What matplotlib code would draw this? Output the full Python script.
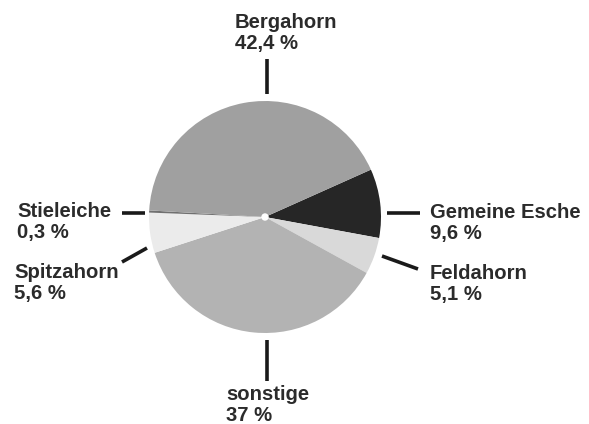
import matplotlib
matplotlib.use("Agg")
import matplotlib.pyplot as plt

# shares in percent, in drawing order (clockwise from Gemeine Esche)
species = ["Gemeine Esche", "Feldahorn", "sonstige", "Spitzahorn", "Stieleiche", "Bergahorn"]
shares = [9.6, 5.1, 37.0, 5.6, 0.3, 42.4]
share_labels = ["9,6 %", "5,1 %", "37 %", "5,6 %", "0,3 %", "42,4 %"]
colors = ["#262626", "#d9d9d9", "#b3b3b3", "#ebebeb", "#707070", "#a0a0a0"]

W, H = 589, 424
fig = plt.figure(figsize=(W / 100, H / 100), dpi=100)
ax = fig.add_axes([0, 0, 1, 1])

cx, cy, r = 265, H - 217, 116
ax.pie(shares, colors=colors, startangle=24.1, counterclock=False,
       center=(cx, cy), radius=r, frame=True,
       wedgeprops=dict(linewidth=0))
ax.set_xlim(0, W)
ax.set_ylim(0, H)
ax.set_aspect("equal")
ax.axis("off")
ax.add_patch(plt.Circle((cx, cy), 3, color="white", zorder=5))

# leader lines (pixel coords of the reference, y from top)
leaders = {
    "Gemeine Esche": ((387, 213), (420, 213)),
    "Feldahorn": ((382, 256), (418, 269)),
    "sonstige": ((267, 340), (267, 381)),
    "Spitzahorn": ((122, 262), (147, 248)),
    "Stieleiche": ((122, 213), (145, 213)),
    "Bergahorn": ((267, 59), (267, 94)),
}
# label anchor: left x, top y of first line
label_pos = {
    "Gemeine Esche": (430, 203),
    "Feldahorn": (430, 264),
    "sonstige": (226, 385),
    "Spitzahorn": (14, 263),
    "Stieleiche": (17, 202),
    "Bergahorn": (235, 13),
}

for name, lab in zip(species, share_labels):
    (x0, y0), (x1, y1) = leaders[name]
    ax.plot([x0, x1], [H - y0, H - y1], color="#1a1a1a", linewidth=2.6,
            solid_capstyle="butt")
    lx, ly = label_pos[name]
    ax.text(lx, H - ly, name + "\n" + lab, ha="left", va="top",
            fontsize=14.6, fontweight="bold", color="#2b2b2b",
            family="Liberation Sans", linespacing=1.12)

fig.savefig("out.png", dpi=100)
